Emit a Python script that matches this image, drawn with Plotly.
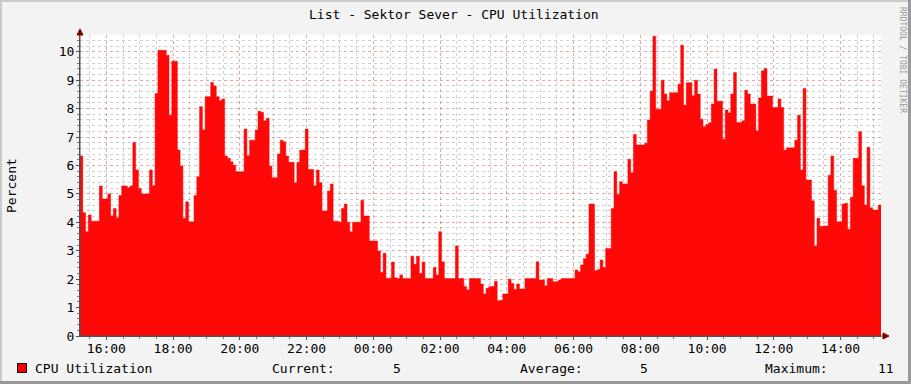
import plotly.graph_objects as go
import pandas as pd

# ---------------- data ----------------
start_time = "2024-03-11 15:12:36"
step = "5min"
cpu_values = [
    6.33, 4.34, 3.67, 4.26, 4.04, 4.04, 4.04, 5.28, 4.82, 4.82,
    5.00, 4.23, 4.49, 4.16, 4.94, 5.28, 5.28, 5.22, 5.28, 6.81,
    5.84, 5.19, 5.00, 5.00, 5.00, 5.84, 5.29, 8.53, 10.05, 10.05,
    10.05, 9.88, 7.77, 9.67, 9.67, 6.54, 5.98, 4.14, 4.72, 4.02,
    4.02, 4.94, 5.60, 8.07, 7.25, 8.42, 8.42, 8.92, 8.80, 8.42,
    8.28, 8.34, 6.33, 6.25, 6.13, 6.01, 5.78, 5.78, 5.78, 7.28,
    6.34, 6.89, 6.89, 7.25, 7.91, 7.87, 7.57, 7.66, 5.98, 5.57,
    5.57, 6.40, 6.89, 6.83, 6.33, 6.11, 6.11, 5.39, 6.11, 6.54,
    6.54, 7.28, 5.86, 5.86, 5.29, 5.84, 5.39, 4.40, 4.40, 5.10,
    5.35, 4.04, 4.04, 4.00, 4.49, 4.64, 4.00, 3.67, 4.00, 4.00,
    4.00, 4.78, 4.22, 4.22, 3.34, 3.34, 3.34, 2.99, 2.23, 2.91,
    2.03, 2.03, 2.60, 2.05, 2.02, 2.15, 2.02, 2.02, 2.02, 2.81,
    2.52, 2.81, 2.20, 2.60, 2.02, 2.02, 2.02, 2.41, 2.15, 3.67,
    2.61, 2.02, 2.02, 2.02, 2.02, 3.17, 2.02, 2.02, 1.74, 1.62,
    2.02, 2.02, 2.02, 2.02, 1.83, 1.48, 1.68, 1.74, 1.74, 1.93,
    1.24, 1.26, 1.48, 1.48, 2.00, 1.85, 1.64, 1.83, 1.65, 1.65,
    2.02, 2.02, 2.02, 2.02, 2.61, 1.97, 1.97, 1.77, 2.02, 2.02,
    1.91, 1.91, 1.97, 2.02, 2.02, 2.02, 2.02, 2.02, 2.32, 2.26,
    2.50, 2.72, 2.88, 4.64, 4.64, 2.30, 2.34, 2.67, 2.41, 3.08,
    3.08, 4.49, 5.78, 4.99, 5.43, 5.35, 5.35, 6.22, 5.74, 7.09,
    6.72, 6.72, 6.72, 6.78, 7.60, 8.62, 10.55, 7.98, 7.98, 9.00,
    8.51, 8.28, 8.56, 8.56, 8.56, 8.86, 10.23, 8.12, 8.91, 8.91,
    8.45, 9.00, 8.51, 7.63, 7.36, 7.44, 7.50, 8.16, 9.39, 8.26,
    8.26, 6.92, 7.95, 7.85, 8.51, 9.27, 7.51, 7.51, 7.57, 8.65,
    8.51, 8.16, 8.16, 7.22, 8.37, 9.33, 9.41, 8.44, 8.44, 8.04,
    8.04, 8.34, 8.04, 6.54, 6.62, 6.62, 6.62, 6.89, 7.77, 5.84,
    8.71, 5.49, 5.49, 4.76, 3.17, 4.14, 3.85, 3.87, 3.87, 5.66,
    6.33, 5.13, 4.02, 4.02, 4.64, 4.67, 3.76, 4.88, 6.25, 6.25,
    7.19, 5.29, 4.61, 6.64, 4.51, 4.43, 4.43, 4.61,
]

title_text = "List - Sektor Sever - CPU Utilization"
y_label = "Percent"
series_name = "CPU Utilization"
stat_labels = ["Current:", "Average:", "Maximum:"]
stat_values = ["5", "5", "11"]
watermark = "RRDTOOL / TOBI OETIKER"

# ---------------- figure ----------------
W, H = 911, 384
L, R, T, B = 80, 30, 35, 48
PW, PH = W - L - R, H - T - B

def px(x):
    return (x - L) / PW

def py(y):
    return (H - B - y) / PH

times = pd.date_range(start_time, periods=len(cpu_values), freq=step)
x_vals = list(times) + [times[-1] + pd.Timedelta(step)]
y_vals = cpu_values + [cpu_values[-1]]
t0 = pd.Timestamp(start_time)
t1 = t0 + pd.Timedelta(hours=24)

MONO = "DejaVu Sans Mono"
fig = go.Figure()
fig.add_trace(go.Scatter(
    x=x_vals, y=y_vals, mode="lines", line=dict(color="#FF0000", width=0.5, shape="hv"),
    fill="tozeroy", fillcolor="rgba(255,0,0,0.97)", name=series_name, showlegend=False,
    hoverinfo="skip",
))

axis_common = dict(
    showline=True, linecolor="#505050", linewidth=1,
    ticks="outside", ticklen=3, tickcolor="#505050",
    tickfont=dict(family=MONO, size=13, color="#000000"),
    showgrid=True, gridcolor="rgba(225,90,90,0.55)", griddash="dot", gridwidth=1,
    zeroline=False, fixedrange=True,
)

fig.update_layout(
    width=W, height=H,
    margin=dict(l=L, r=R, t=T, b=B, pad=0),
    paper_bgcolor="#F3F3F3", plot_bgcolor="#FFFFFF",
    showlegend=False,
    xaxis=dict(
        type="date", range=[t0, t1],
        tick0="2024-03-11 16:00:00", dtick=2 * 3600 * 1000, tickformat="%H:%M",
        minor=dict(tick0="2024-03-11 16:00:00", dtick=1800 * 1000, showgrid=True,
                   gridcolor="rgba(150,150,150,0.45)", griddash="dot", gridwidth=1,
                   ticks="outside", ticklen=2, tickcolor="#808080"),
        ticklabelstandoff=-3,
        **axis_common,
    ),
    yaxis=dict(
        range=[0, 10.59], tick0=0, dtick=1,
        minor=dict(tick0=0, dtick=0.2, showgrid=True,
                   gridcolor="rgba(150,150,150,0.45)", griddash="dot", gridwidth=1,
                   ticks="outside", ticklen=2, tickcolor="#808080"),
        ticklabelstandoff=-1,
        **axis_common,
    ),
)

# frame (3D shading like RRDtool)
shapes = [
    dict(type="rect", xref="paper", yref="paper", x0=px(0), x1=px(W), y0=py(0), y1=py(2),
         fillcolor="#CBCBCB", line_width=0, layer="below"),
    dict(type="rect", xref="paper", yref="paper", x0=px(0), x1=px(2), y0=py(0), y1=py(H),
         fillcolor="#CBCBCB", line_width=0, layer="below"),
    dict(type="rect", xref="paper", yref="paper", x0=px(0), x1=px(W), y0=py(H - 3), y1=py(H),
         fillcolor="#999999", line_width=0, layer="below"),
    dict(type="rect", xref="paper", yref="paper", x0=px(W - 3), x1=px(W), y0=py(0), y1=py(H),
         fillcolor="#999999", line_width=0, layer="below"),
    # axis extensions
    dict(type="line", xref="paper", yref="paper", x0=px(80), x1=px(884), y0=py(336), y1=py(336),
         line=dict(color="#505050", width=1)),
    dict(type="line", xref="paper", yref="paper", x0=px(80), x1=px(80), y0=py(336), y1=py(33),
         line=dict(color="#505050", width=1)),
    # arrows
    dict(type="path", xref="paper", yref="paper",
         path=f"M {px(77)} {py(35)} L {px(83)} {py(35)} L {px(80)} {py(29)} Z",
         fillcolor="#7F0000", line=dict(color="#7F0000", width=1)),
    dict(type="path", xref="paper", yref="paper",
         path=f"M {px(883)} {py(333)} L {px(883)} {py(339)} L {px(889)} {py(336)} Z",
         fillcolor="#7F0000", line=dict(color="#7F0000", width=1)),
    # legend swatch
    dict(type="rect", xref="paper", yref="paper", x0=px(17.5), x1=px(26.5), y0=py(363.5), y1=py(372.5),
         fillcolor="#FF0000", line=dict(color="#000000", width=1)),
]
fig.update_layout(shapes=shapes)

ann = []
ann.append(dict(text=title_text, x=px(454), y=py(14.5), xref="paper", yref="paper",
                showarrow=False, xanchor="center", yanchor="middle",
                font=dict(family=MONO, size=13, color="#000000")))
ann.append(dict(text=y_label, x=px(11), y=py(186), xref="paper", yref="paper",
                showarrow=False, textangle=-90, xanchor="center", yanchor="middle",
                font=dict(family=MONO, size=13, color="#000000")))
ann.append(dict(text=watermark, x=px(903), y=py(5), xref="paper", yref="paper",
                showarrow=False, textangle=90, xanchor="center", yanchor="top",
                font=dict(family=MONO, size=8, color="#9A9A9A")))
ann.append(dict(text=series_name, x=px(33), y=py(368.5), xref="paper", yref="paper",
                showarrow=False, xanchor="left", yanchor="middle",
                font=dict(family=MONO, size=13, color="#000000")))
label_x = [270, 518, 763]
value_x = [403, 650, 896]
for lab, val, lx, vx in zip(stat_labels, stat_values, label_x, value_x):
    ann.append(dict(text=lab, x=px(lx), y=py(368.5), xref="paper", yref="paper",
                    showarrow=False, xanchor="left", yanchor="middle",
                    font=dict(family=MONO, size=13, color="#000000")))
    ann.append(dict(text=val, x=px(vx), y=py(368.5), xref="paper", yref="paper",
                    showarrow=False, xanchor="right", yanchor="middle",
                    font=dict(family=MONO, size=13, color="#000000")))
fig.update_layout(annotations=ann)

fig.write_html("out.html")
